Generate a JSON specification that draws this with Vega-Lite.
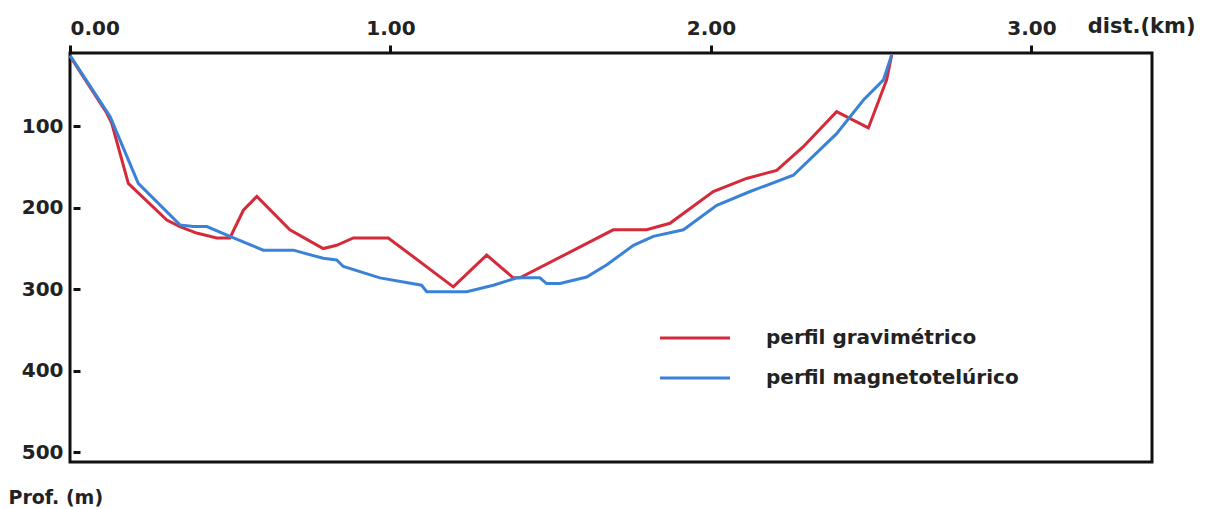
{
  "$schema": "https://vega.github.io/schema/vega-lite/v6.json",
  "autosize": {"type": "none"},
  "width": 1082,
  "height": 409,
  "padding": {"left": 70, "top": 53, "right": 55, "bottom": 47},
  "background": "white",
  "config": {
    "view": {"stroke": "#111", "strokeWidth": 3},
    "font": "DejaVu Sans"
  },
  "data": {
    "values": [
      {"perfil": "perfil gravimétrico", "dist": 0.0, "prof": 14},
      {"perfil": "perfil gravimétrico", "dist": 0.115, "prof": 84},
      {"perfil": "perfil gravimétrico", "dist": 0.13, "prof": 96},
      {"perfil": "perfil gravimétrico", "dist": 0.182, "prof": 170},
      {"perfil": "perfil gravimétrico", "dist": 0.302, "prof": 215},
      {"perfil": "perfil gravimétrico", "dist": 0.343, "prof": 223},
      {"perfil": "perfil gravimétrico", "dist": 0.395, "prof": 231},
      {"perfil": "perfil gravimétrico", "dist": 0.458, "prof": 237},
      {"perfil": "perfil gravimétrico", "dist": 0.499, "prof": 237},
      {"perfil": "perfil gravimétrico", "dist": 0.541, "prof": 203},
      {"perfil": "perfil gravimétrico", "dist": 0.583, "prof": 186},
      {"perfil": "perfil gravimétrico", "dist": 0.686, "prof": 227},
      {"perfil": "perfil gravimétrico", "dist": 0.79, "prof": 250},
      {"perfil": "perfil gravimétrico", "dist": 0.832, "prof": 246},
      {"perfil": "perfil gravimétrico", "dist": 0.884, "prof": 237},
      {"perfil": "perfil gravimétrico", "dist": 0.993, "prof": 237},
      {"perfil": "perfil gravimétrico", "dist": 1.196, "prof": 297},
      {"perfil": "perfil gravimétrico", "dist": 1.3, "prof": 258},
      {"perfil": "perfil gravimétrico", "dist": 1.383, "prof": 286},
      {"perfil": "perfil gravimétrico", "dist": 1.404, "prof": 286},
      {"perfil": "perfil gravimétrico", "dist": 1.695, "prof": 227},
      {"perfil": "perfil gravimétrico", "dist": 1.799, "prof": 227},
      {"perfil": "perfil gravimétrico", "dist": 1.872, "prof": 219},
      {"perfil": "perfil gravimétrico", "dist": 2.007, "prof": 180},
      {"perfil": "perfil gravimétrico", "dist": 2.111, "prof": 164},
      {"perfil": "perfil gravimétrico", "dist": 2.205, "prof": 154},
      {"perfil": "perfil gravimétrico", "dist": 2.288, "prof": 125},
      {"perfil": "perfil gravimétrico", "dist": 2.392, "prof": 82},
      {"perfil": "perfil gravimétrico", "dist": 2.491, "prof": 102},
      {"perfil": "perfil gravimétrico", "dist": 2.548, "prof": 43},
      {"perfil": "perfil gravimétrico", "dist": 2.564, "prof": 12},
      {"perfil": "perfil magnetotelúrico", "dist": 0.0, "prof": 13},
      {"perfil": "perfil magnetotelúrico", "dist": 0.125, "prof": 88},
      {"perfil": "perfil magnetotelúrico", "dist": 0.213, "prof": 170},
      {"perfil": "perfil magnetotelúrico", "dist": 0.343, "prof": 221},
      {"perfil": "perfil magnetotelúrico", "dist": 0.385, "prof": 223},
      {"perfil": "perfil magnetotelúrico", "dist": 0.427, "prof": 223},
      {"perfil": "perfil magnetotelúrico", "dist": 0.499, "prof": 235},
      {"perfil": "perfil magnetotelúrico", "dist": 0.603, "prof": 252},
      {"perfil": "perfil magnetotelúrico", "dist": 0.697, "prof": 252},
      {"perfil": "perfil magnetotelúrico", "dist": 0.79, "prof": 262},
      {"perfil": "perfil magnetotelúrico", "dist": 0.832, "prof": 264},
      {"perfil": "perfil magnetotelúrico", "dist": 0.853, "prof": 272},
      {"perfil": "perfil magnetotelúrico", "dist": 0.967, "prof": 286},
      {"perfil": "perfil magnetotelúrico", "dist": 1.097, "prof": 295},
      {"perfil": "perfil magnetotelúrico", "dist": 1.113, "prof": 303},
      {"perfil": "perfil magnetotelúrico", "dist": 1.238, "prof": 303},
      {"perfil": "perfil magnetotelúrico", "dist": 1.321, "prof": 295},
      {"perfil": "perfil magnetotelúrico", "dist": 1.394, "prof": 286},
      {"perfil": "perfil magnetotelúrico", "dist": 1.466, "prof": 286},
      {"perfil": "perfil magnetotelúrico", "dist": 1.487, "prof": 293},
      {"perfil": "perfil magnetotelúrico", "dist": 1.529, "prof": 293},
      {"perfil": "perfil magnetotelúrico", "dist": 1.612, "prof": 285},
      {"perfil": "perfil magnetotelúrico", "dist": 1.675, "prof": 270},
      {"perfil": "perfil magnetotelúrico", "dist": 1.758, "prof": 246},
      {"perfil": "perfil magnetotelúrico", "dist": 1.82, "prof": 235},
      {"perfil": "perfil magnetotelúrico", "dist": 1.914, "prof": 227},
      {"perfil": "perfil magnetotelúrico", "dist": 2.018, "prof": 197},
      {"perfil": "perfil magnetotelúrico", "dist": 2.122, "prof": 180},
      {"perfil": "perfil magnetotelúrico", "dist": 2.257, "prof": 160},
      {"perfil": "perfil magnetotelúrico", "dist": 2.392, "prof": 109},
      {"perfil": "perfil magnetotelúrico", "dist": 2.475, "prof": 68},
      {"perfil": "perfil magnetotelúrico", "dist": 2.538, "prof": 43},
      {"perfil": "perfil magnetotelúrico", "dist": 2.564, "prof": 12}
    ]
  },
  "mark": {"type": "line", "strokeWidth": 3, "strokeJoin": "miter"},
  "encoding": {
    "x": {
      "field": "dist",
      "type": "quantitative",
      "scale": {"domain": [0, 3.376], "nice": false, "zero": false},
      "axis": {
        "orient": "top",
        "values": [0, 1, 2, 3],
        "format": ".2f",
        "grid": false,
        "domain": false,
        "ticks": true,
        "tickSize": 8,
        "tickWidth": 3,
        "tickColor": "#111",
        "labelPadding": 7,
        "labelFont": "DejaVu Sans",
        "labelFontSize": 20,
        "labelFontWeight": "bold",
        "labelColor": "#222",
        "title": "dist.(km)",
        "titleFont": "DejaVu Sans",
        "titleFontSize": 21,
        "titleFontWeight": "bold",
        "titleColor": "#222",
        "titleAnchor": "end",
        "titleAlign": "right",
        "titleBaseline": "alphabetic",
        "titleX": 1125,
        "titleY": -21
      }
    },
    "y": {
      "field": "prof",
      "type": "quantitative",
      "scale": {"domain": [10, 512], "nice": false, "zero": false, "reverse": true},
      "axis": {
        "values": [100, 200, 300, 400, 500],
        "offset": -10,
        "grid": false,
        "domain": false,
        "ticks": true,
        "tickSize": 7,
        "tickWidth": 3,
        "tickColor": "#111",
        "labelPadding": 10,
        "labelFont": "DejaVu Sans",
        "labelFontSize": 20,
        "labelFontWeight": "bold",
        "labelColor": "#222",
        "title": "Prof. (m)",
        "titleFont": "DejaVu Sans",
        "titleFontSize": 19,
        "titleFontWeight": "bold",
        "titleColor": "#222",
        "titleAngle": 0,
        "titleAlign": "left",
        "titleBaseline": "alphabetic",
        "titleX": -72,
        "titleY": 450
      }
    },
    "color": {
      "field": "perfil",
      "type": "nominal",
      "scale": {
        "domain": ["perfil gravimétrico", "perfil magnetotelúrico"],
        "range": ["#d42a3a", "#3a82d8"]
      },
      "legend": {
        "title": null,
        "orient": "none",
        "legendX": 615,
        "legendY": 275,
        "symbolType": "M-7,0H7",
        "symbolSize": 100,
        "symbolStrokeWidth": 3,
        "labelFont": "DejaVu Sans",
        "labelFontSize": 20,
        "labelFontWeight": "bold",
        "labelColor": "#222",
        "labelOffset": 61,
        "rowPadding": 20,
        "labelLimit": 400
      }
    }
  }
}
